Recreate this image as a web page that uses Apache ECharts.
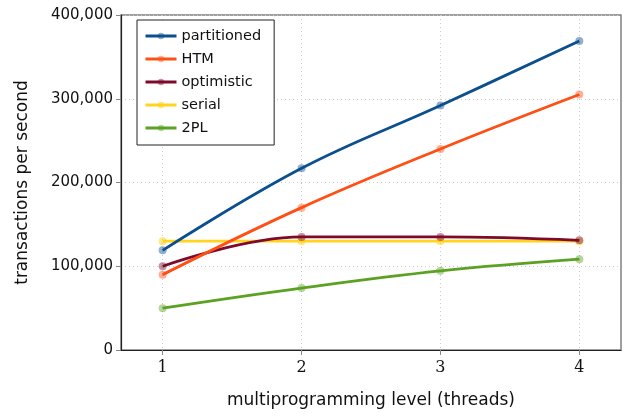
<!DOCTYPE html>
<html><head><meta charset="utf-8">
<script src="https://cdn.jsdelivr.net/npm/echarts@6/dist/echarts.min.js"></script>
<style>html,body{margin:0;padding:0;background:#fff}#c{width:624px;height:416px}</style>
</head><body><div id="c"></div>
<script>
const threads = [1, 2, 3, 4];
const seriesNames = ['partitioned', 'HTM', 'optimistic', 'serial', '2PL'];
const partitioned = [119000, 217000, 292000, 369000];
const htm = [90000, 170000, 240000, 305000];
const optimistic = [100000, 135000, 135000, 131000];
const serial = [130000, 130000, 130000, 130000];
const twoPL = [50000, 74000, 94500, 108500];
const yTicks = [0, 100000, 200000, 300000, 400000];
const colors = ['#0b4f8e', '#ff4f14', '#7d0a2c', '#ffd31e', '#5ba223'];
const markerColors = ['rgba(11,79,142,0.45)', 'rgba(255,79,20,0.45)', 'rgba(125,10,44,0.45)', 'rgba(255,211,30,0.55)', 'rgba(91,162,35,0.45)'];
const allValues = [partitioned, htm, optimistic, serial, twoPL];

const chart = echarts.init(document.getElementById('c'));
const series = seriesNames.map((n, i) => ({
  name: n,
  type: 'line',
  smooth: 0.4,
  data: threads.map((t, j) => [t, allValues[i][j]]),
  symbol: 'circle',
  symbolSize: 8,
  lineStyle: { color: colors[i], width: 2.8 },
  itemStyle: { color: markerColors[i], borderWidth: 0 },
  z: 10 - i
}));
chart.setOption({
  animation: false,
  grid: { left: 121, right: 3, top: 15, bottom: 66, show: true, borderColor: '#808080', borderWidth: 1.5 },
  legend: {
    orient: 'vertical', left: 137, top: 20,
    backgroundColor: '#fff',
    borderColor: '#222', borderWidth: 1,
    padding: [7, 13, 8, 7],
    itemWidth: 31, itemHeight: 8, itemGap: 5,
    textStyle: { fontFamily: 'DejaVu Sans', fontSize: 14.5, color: '#111', lineHeight: 18 },
    data: seriesNames.map((n, i) => ({ name: n, itemStyle: { color: markerColors[i] }, lineStyle: { color: colors[i], width: 3 } }))
  },
  xAxis: {
    type: 'value', min: 0.7, max: 4.3, splitNumber: 5,
    name: 'multiprogramming level (threads)', nameLocation: 'middle', nameGap: 42,
    nameTextStyle: { fontFamily: 'DejaVu Sans', fontSize: 17, color: '#111' },
    axisLine: { show: true, lineStyle: { color: '#222', width: 1.2 } },
    axisTick: { show: true, length: 5, customValues: threads, lineStyle: { color: '#888' } },
    axisLabel: { customValues: threads, margin: 10,
      fontFamily: 'DejaVu Serif', fontSize: 16, color: '#111',
      formatter: v => (Number.isInteger(v) ? String(v) : '') },
    splitLine: { show: true, lineStyle: { color: '#cccccc', type: [1, 3], width: 1 } }
  },
  yAxis: {
    type: 'value', min: 0, max: 400000, interval: 100000,
    name: 'transactions per second', nameLocation: 'middle', nameGap: 90,
    nameTextStyle: { fontFamily: 'DejaVu Sans', fontSize: 17, color: '#111' },
    axisLine: { show: true, lineStyle: { color: '#222', width: 1.2 } },
    axisTick: { show: true, length: 5, lineStyle: { color: '#888' } },
    axisLabel: { margin: 8, fontFamily: 'DejaVu Sans', fontSize: 15, color: '#111',
      formatter: v => v.toLocaleString('en-US') },
    splitLine: { show: true, lineStyle: { color: '#cccccc', type: [1, 3], width: 1 } }
  },
  series: series
});
</script></body></html>
